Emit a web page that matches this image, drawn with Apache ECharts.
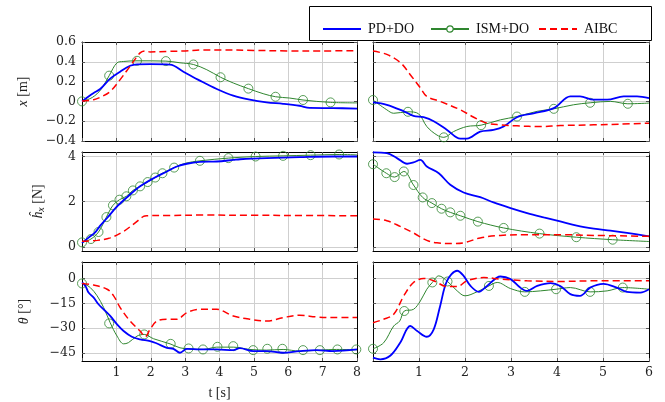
<!DOCTYPE html>
<html><head><meta charset="utf-8">
<script src="https://cdn.jsdelivr.net/npm/echarts@6/dist/echarts.min.js"></script>
<style>html,body{margin:0;padding:0;background:#fff}#c{width:665px;height:402px}</style>
</head><body><div id="c"></div>
<script>
// ---------- data ----------
const seriesNames = ['PD+DO', 'ISM+DO', 'AIBC'];
const xTicksLeft = [1,2,3,4,5,6,7,8];
const xTicksRight = [1,2,3,4,5,6];
const yTicksX = [-0.4,-0.2,0,0.2,0.4,0.6];
const yTicksH = [0,2,4];
const yTicksT = [-45,-30,-15,0];

// row 1: x [m]
const pdX_L = [[0,0],[0.19,0.05],[0.34,0.085],[0.53,0.125],[0.82,0.23],[1.11,0.30],[1.4,0.36],[1.6,0.375],[2.0,0.376],[2.56,0.372],[2.95,0.30],[3.43,0.21],[3.92,0.125],[4.4,0.058],[4.88,0.017],[5.37,-0.01],[5.85,-0.024],[6.33,-0.044],[6.62,-0.066],[7.3,-0.068],[8,-0.072]];
const ismX_L = [[0,0],[0.3,0.04],[0.55,0.12],[0.79,0.26],[1.02,0.39],[1.2,0.403],[1.6,0.41],[2.44,0.407],[2.85,0.39],[3.24,0.373],[3.63,0.32],[4.03,0.244],[4.4,0.186],[4.84,0.129],[5.27,0.078],[5.63,0.047],[6.04,0.034],[6.43,0.014],[7.23,-0.01],[8,-0.015]];
const ismX_L_marks = [[0,0],[0.79,0.26],[1.6,0.41],[2.44,0.407],[3.24,0.373],[4.03,0.244],[4.84,0.129],[5.63,0.047],[6.43,0.014],[7.23,-0.01]];
const aibcX_L = [[0,0.005],[0.34,0.017],[0.58,0.05],[0.82,0.1],[1.11,0.22],[1.4,0.356],[1.69,0.49],[1.84,0.51],[1.98,0.5],[2.5,0.505],[3,0.51],[3.5,0.52],[4,0.52],[5,0.515],[6,0.51],[7,0.51],[8,0.512]];
const pdX_R = [[0,-0.01],[0.3,-0.034],[0.67,-0.1],[0.88,-0.146],[1.1,-0.16],[1.32,-0.2],[1.61,-0.288],[1.9,-0.376],[2.04,-0.376],[2.33,-0.305],[2.62,-0.288],[2.84,-0.254],[3.13,-0.16],[3.49,-0.12],[3.93,-0.068],[4.29,0.05],[4.5,0.05],[4.8,0.017],[5.09,0.017],[5.45,0.05],[5.74,0.05],[6,0.034]];
const ismX_R = [[0,0.014],[0.3,-0.085],[0.45,-0.12],[0.76,-0.105],[0.99,-0.125],[1.17,-0.254],[1.39,-0.34],[1.54,-0.363],[1.75,-0.305],[2.04,-0.254],[2.35,-0.24],[2.77,-0.186],[3.13,-0.153],[3.57,-0.1],[3.93,-0.075],[4.36,-0.034],[4.72,-0.014],[5.16,0],[5.54,-0.024],[6,-0.017]];
const ismX_R_marks = [[0,0.014],[0.76,-0.105],[1.54,-0.363],[2.35,-0.24],[3.13,-0.153],[3.93,-0.075],[4.72,-0.014],[5.54,-0.024]];
const aibcX_R = [[0,0.508],[0.3,0.475],[0.6,0.39],[0.81,0.27],[1.03,0.136],[1.17,0.05],[1.46,0],[1.9,-0.085],[2.19,-0.16],[2.48,-0.22],[2.77,-0.237],[3.13,-0.247],[3.64,-0.254],[4.07,-0.244],[4.8,-0.237],[5.38,-0.23],[6,-0.22]];

// row 2: h_x [N]
const pdH_L = [[0,0.18],[0.24,0.47],[0.39,0.65],[0.53,0.94],[0.73,1.28],[1.02,1.79],[1.31,2.2],[1.69,2.68],[2.08,3.04],[2.47,3.34],[2.76,3.56],[3.05,3.68],[3.43,3.76],[3.92,3.78],[4.4,3.85],[4.6,3.88],[5.37,3.93],[6.33,3.97],[7.3,4.0],[8,4.0]];
const ismH_L = [[0,0.2],[0.26,0.35],[0.48,0.66],[0.71,1.32],[0.9,1.84],[1.09,2.09],[1.29,2.24],[1.48,2.5],[1.69,2.68],[1.91,2.87],[2.13,3.07],[2.34,3.26],[2.68,3.51],[3.0,3.7],[3.43,3.81],[4.26,3.93],[5.05,4.0],[5.85,4.03],[6.65,4.06],[7.48,4.09],[8,4.07]];
const ismH_L_marks = [[0,0.2],[0.26,0.35],[0.48,0.66],[0.71,1.32],[0.9,1.84],[1.09,2.09],[1.29,2.24],[1.48,2.5],[1.69,2.68],[1.91,2.87],[2.13,3.07],[2.34,3.26],[2.68,3.51],[3.43,3.81],[4.26,3.93],[5.05,4.0],[5.85,4.03],[6.65,4.06],[7.48,4.09]];
const aibcH_L = [[0,0.25],[0.44,0.29],[0.82,0.4],[1.21,0.69],[1.5,1.01],[1.79,1.35],[1.89,1.38],[2.5,1.39],[3.5,1.41],[5,1.4],[6.5,1.39],[8,1.38]];
const pdH_R = [[0,4.18],[0.3,4.15],[0.52,3.93],[0.74,3.68],[0.88,3.74],[1.03,3.85],[1.17,3.56],[1.43,3.26],[1.68,2.75],[1.97,2.41],[2.33,2.2],[2.62,1.97],[2.99,1.72],[3.35,1.5],[3.71,1.31],[4.07,1.13],[4.43,0.94],[4.8,0.81],[5.16,0.72],[5.52,0.62],[6,0.47]];
const ismH_R = [[0,3.66],[0.29,3.26],[0.47,3.09],[0.67,3.34],[0.88,2.74],[1.08,2.19],[1.28,1.94],[1.49,1.69],[1.68,1.53],[1.9,1.38],[2.28,1.12],[2.84,0.84],[3.62,0.59],[4.42,0.43],[5.21,0.32],[6,0.24]];
const ismH_R_marks = [[0,3.66],[0.29,3.26],[0.47,3.09],[0.67,3.34],[0.88,2.74],[1.08,2.19],[1.28,1.94],[1.49,1.69],[1.68,1.53],[1.9,1.38],[2.28,1.12],[2.84,0.84],[3.62,0.59],[4.42,0.43],[5.21,0.32]];
const aibcH_R = [[0,1.24],[0.3,1.16],[0.59,0.91],[0.88,0.62],[1.17,0.29],[1.39,0.18],[1.75,0.15],[1.97,0.18],[2.33,0.4],[2.77,0.51],[3.35,0.54],[4.07,0.54],[4.8,0.51],[6,0.47]];

// row 3: theta [deg]
const pdT_L = [[0,-2.4],[0.1,-4.5],[0.19,-8.5],[0.34,-11.6],[0.48,-15.6],[0.63,-18.7],[0.82,-22.7],[1.02,-27.8],[1.21,-31.8],[1.45,-35.3],[1.69,-36.9],[1.98,-37.9],[2.18,-39.4],[2.47,-42],[2.66,-42.6],[2.85,-45],[3.05,-42.6],[3.43,-43],[3.92,-43],[4.4,-43.4],[4.59,-42.2],[4.98,-44],[5.37,-44],[5.85,-45],[6.33,-44],[6.82,-43.4],[7.3,-44],[8,-43]];
const ismT_L = [[0,-2.4],[0.24,-5.5],[0.44,-10.5],[0.63,-17.6],[0.82,-26.8],[1.02,-34.9],[1.21,-39.6],[1.35,-38.9],[1.6,-34.9],[1.81,-33.9],[2.08,-36.5],[2.56,-39.6],[2.85,-42],[3.09,-42.6],[3.53,-43],[3.92,-41.6],[4.4,-41.6],[4.88,-43],[5.37,-43.4],[5.85,-43],[6.33,-44],[6.92,-43.4],[7.4,-43],[8,-43.2]];
const ismT_L_marks = [[0,-3],[0.79,-27.2],[1.81,-33.9],[2.58,-39.6],[3.1,-42.4],[3.52,-43],[3.94,-41.4],[4.4,-41],[4.98,-43.4],[5.39,-42.6],[5.83,-42.6],[6.43,-43.4],[6.92,-43.4],[7.43,-43],[7.98,-43]];
const aibcT_L = [[0,-3],[0.34,-4],[0.73,-6.5],[0.92,-10.5],[1.11,-17.6],[1.4,-25.8],[1.69,-31.8],[1.84,-35.3],[1.98,-30.8],[2.18,-25.8],[2.47,-24.7],[2.76,-24.7],[3.05,-20.7],[3.43,-18.7],[3.92,-18.7],[4.4,-22.7],[4.88,-24.7],[5.37,-25.8],[5.85,-23.7],[6.33,-22.3],[6.82,-23.3],[7.3,-23.7],[8,-23.7]];
const pdT_R = [[0,-48],[0.16,-49],[0.38,-46.7],[0.59,-39],[0.81,-28.8],[0.96,-31.8],[1.17,-35.3],[1.32,-30.8],[1.46,-16.6],[1.61,-1.4],[1.83,4.7],[1.97,1.6],[2.12,-4.5],[2.3,-8.1],[2.48,-4.5],[2.77,1.2],[2.99,-0.4],[3.2,-5.5],[3.35,-7.5],[3.57,-4.5],[3.86,-2.8],[4.07,-4.5],[4.29,-9.5],[4.5,-10.5],[4.72,-5.5],[5.01,-3.2],[5.3,-5.5],[5.52,-8.1],[5.81,-8.5],[6,-6.5]];
const ismT_R = [[0,-42.6],[0.23,-39],[0.45,-28.8],[0.58,-25.8],[0.68,-19.7],[0.88,-18.7],[1.03,-13.6],[1.17,-6.5],[1.29,-2.4],[1.43,1.6],[1.62,-1.8],[1.83,-7.5],[2.0,-10.5],[2.26,-8.1],[2.52,-4.5],[2.7,-2.4],[2.99,-6.1],[3.3,-8.1],[3.64,-7.5],[3.98,-6.5],[4.29,-5.5],[4.72,-8.1],[5.09,-7.5],[5.43,-5.5],[6,-6.5]];
const ismT_R_marks = [[0,-42.6],[0.68,-19.7],[1.29,-2.4],[1.62,-1.8],[2.52,-4.5],[3.3,-8.1],[3.98,-6.5],[4.72,-8.1],[5.43,-5.5]];
const aibcT_R = [[0,-26.8],[0.23,-24.7],[0.45,-21.7],[0.67,-10.5],[0.88,-2.4],[1.1,0],[1.32,-1.4],[1.61,-4.9],[1.83,-4.9],[2.04,-1.4],[2.41,0.6],[2.77,-0.4],[3.35,-1.4],[4.07,-1.8],[4.8,-1.4],[6,-1.4]];

// ---------- layout / style ----------
const FONT = 'Liberation Serif';
const TICKFONT = 'DejaVu Serif';
const BLUE = '#0000ff', GREEN = '#2f862f', RED = '#ff0000';
const cols = [{left: 82, width: 275, xmax: 8, ticks: xTicksLeft}, {left: 373, width: 276, xmax: 6, ticks: xTicksRight}];
const rows = [
  {top: 42, height: 99, min: -0.4, max: 0.6, ticks: yTicksX, name: '{i|x} [m]', gap: 52},
  {top: 152, height: 99, min: -0.18, max: 4.2, ticks: yTicksH, name: '{i|ĥ}{s|x} [N]', gap: 36},
  {top: 262, height: 99, min: -50, max: 10, ticks: yTicksT, name: '{i|θ} [°]', gap: 51}
];
const panelData = [
  [pdX_L, ismX_L, ismX_L_marks, aibcX_L], [pdX_R, ismX_R, ismX_R_marks, aibcX_R],
  [pdH_L, ismH_L, ismH_L_marks, aibcH_L], [pdH_R, ismH_R, ismH_R_marks, aibcH_R],
  [pdT_L, ismT_L, ismT_L_marks, aibcT_L], [pdT_R, ismT_R, ismT_R_marks, aibcT_R]
];
const fmtNum = v => String(v).replace('-', '\u2212');

const tick = (custom) => {
  const o = {show: true, inside: true, length: 3, lineStyle: {color: '#555', width: 1}};
  if (custom) o.customValues = custom.slice();
  return o;
};
const axLine = () => ({show: true, onZero: false, lineStyle: {color: '#000', width: 1}});
const split = () => ({show: true, lineStyle: {color: '#cfcfcf', width: 1, type: 'solid'}});

const grid = [], xAxis = [], yAxis = [], series = [];
rows.forEach((r, ri) => {
  cols.forEach((c, ci) => {
    const p = ri * 2 + ci;
    grid.push({left: c.left, top: r.top, width: c.width, height: r.height});
    const isBottom = ri === 2;
    xAxis.push({
      gridIndex: p, type: 'value', min: 0, max: c.xmax, interval: 1, position: 'bottom',
      axisLine: axLine(), axisTick: tick(), splitLine: split(),
      axisLabel: {show: isBottom, margin: 5, fontFamily: TICKFONT, fontSize: 12.5, color: '#222',
        formatter: v => c.ticks.includes(v) ? String(v) : ''},
      name: (isBottom && ci === 0) ? 't [s]' : '', nameLocation: 'middle', nameGap: 25,
      nameTextStyle: {fontFamily: FONT, fontSize: 14, color: '#222'}
    });
    xAxis.push({
      gridIndex: p, type: 'value', min: 0, max: c.xmax, interval: 1, position: 'top',
      axisLine: axLine(), axisTick: tick(), splitLine: {show: false}, axisLabel: {show: false}
    });
    yAxis.push({
      gridIndex: p, type: 'value', min: r.min, max: r.max, position: 'left',
      axisLine: axLine(), axisTick: tick(r.ticks), splitLine: split(),
      axisLabel: {show: ci === 0, customValues: r.ticks.slice(), margin: 6, fontFamily: TICKFONT, fontSize: 12.5, color: '#222', formatter: fmtNum},
      name: ci === 0 ? r.name : '', nameLocation: 'middle', nameGap: r.gap,
      nameTextStyle: {fontFamily: FONT, fontSize: 14, color: '#222',
        rich: {i: {fontStyle: 'italic', fontFamily: FONT, fontSize: 14, color: '#222'},
               s: {fontStyle: 'italic', fontFamily: FONT, fontSize: 10, color: '#222', verticalAlign: 'bottom', padding: [6, 0, 0, 0]}}}
    });
    yAxis.push({
      gridIndex: p, type: 'value', min: r.min, max: r.max, position: 'right',
      axisLine: axLine(), axisTick: tick(r.ticks), splitLine: {show: false}, axisLabel: {show: false}
    });
    const d = panelData[p];
    const xi = p * 2, yi = p * 2;
    series.push({name: 'PD+DO', type: 'line', xAxisIndex: xi, yAxisIndex: yi, data: d[0], smooth: 0.35,
      showSymbol: false, symbol: 'none', lineStyle: {color: BLUE, width: 1.8}, itemStyle: {color: BLUE}, z: 4, animation: false});
    series.push({name: 'ISM+DO', type: 'line', xAxisIndex: xi, yAxisIndex: yi, data: d[1], smooth: 0.35,
      showSymbol: false, symbol: 'circle', lineStyle: {color: GREEN, width: 1}, itemStyle: {color: GREEN}, z: 3, animation: false});
    series.push({name: 'ISM+DO marks', type: 'scatter', xAxisIndex: xi, yAxisIndex: yi, data: d[2], clip: false,
      symbol: 'circle', symbolSize: 9, itemStyle: {color: 'rgba(0,0,0,0)', borderColor: GREEN, borderWidth: 1}, z: 3, animation: false});
    series.push({name: 'AIBC', type: 'line', xAxisIndex: xi, yAxisIndex: yi, data: d[3], smooth: 0.35,
      showSymbol: false, symbol: 'none', lineStyle: {color: RED, width: 1.5, type: [7, 4]}, itemStyle: {color: RED}, z: 5, animation: false});
  });
});

const legendBase = (name, left, extra) => ({
  data: [Object.assign({name: name}, extra)], left: left, top: 17, itemWidth: 38, itemHeight: 8,
  textStyle: {fontFamily: FONT, fontSize: 14, color: '#111', padding: [0, 0, 0, 2]}, selectedMode: false
});
const legend = [
  legendBase('PD+DO', 317, {itemStyle: {opacity: 0}}),
  legendBase('ISM+DO', 425, {itemStyle: {color: '#fff', borderColor: GREEN, borderWidth: 1.2}}),
  legendBase('AIBC', 533, {itemStyle: {opacity: 0}})
];

const chart = echarts.init(document.getElementById('c'), null, {renderer: 'canvas'});
chart.setOption({
  animation: false,
  backgroundColor: '#fff',
  grid, xAxis, yAxis, series, legend,
  graphic: [{type: 'rect', left: 307, top: 4, shape: {width: 342, height: 34}, style: {fill: 'none', stroke: '#000', lineWidth: 1}, z: 10}]
});
</script></body></html>
